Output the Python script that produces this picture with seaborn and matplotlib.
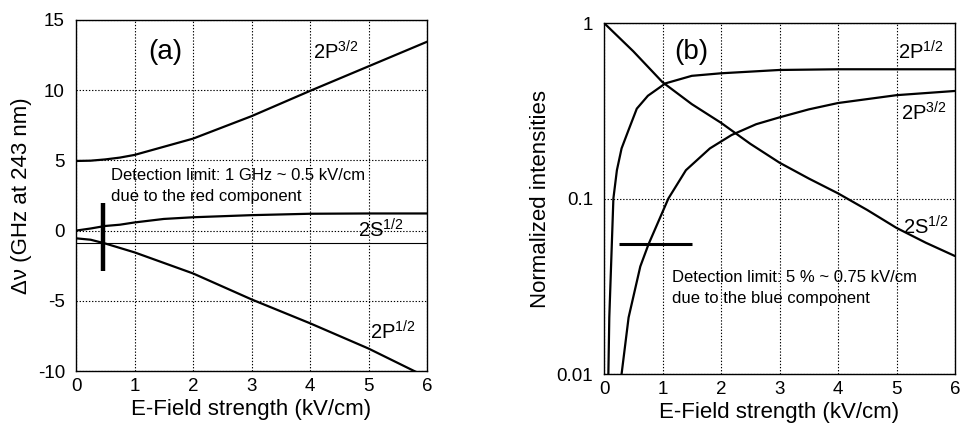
import matplotlib
matplotlib.use("Agg")
import matplotlib.pyplot as plt
import seaborn as sns
import numpy as np
import pandas as pd

# ---- (a) level shifts vs. field ----
field_p32_a = [0, 0.25, 0.5, 0.75, 1, 2, 3, 4, 5, 6]
shift_p32_a = [4.96, 4.98, 5.07, 5.2, 5.39, 6.55, 8.15, 9.95, 11.7, 13.45]

field_s12_a = [0, 0.25, 0.5, 0.75, 1, 1.5, 2, 3, 4, 5, 6]
shift_s12_a = [0.0, 0.15, 0.33, 0.42, 0.58, 0.83, 0.95, 1.1, 1.2, 1.22, 1.22]

field_p12_a = [0, 0.25, 0.5, 1, 2, 3, 4, 5, 6]
shift_p12_a = [-0.55, -0.65, -0.92, -1.55, -3.05, -4.9, -6.6, -8.4, -10.45]

red_limit_level = -0.88
red_bar_field = 0.46
red_bar_span = [-2.9, 1.95]

# ---- (b) normalized intensities vs. field ----
field_s12_b = [0, 0.5, 1, 1.5, 2, 2.5, 3, 3.5, 4, 4.5, 5, 5.5, 6]
inten_s12_b = [1.0, 0.69, 0.46, 0.345, 0.27, 0.205, 0.16, 0.13, 0.107, 0.086, 0.068, 0.056, 0.047]

field_p12_b = [0.074, 0.09, 0.12, 0.16, 0.22, 0.3, 0.42, 0.56, 0.75, 1.05, 1.5, 2, 3, 4, 5, 6]
inten_p12_b = [0.01, 0.021, 0.041, 0.1, 0.145, 0.193, 0.246, 0.325, 0.385, 0.453, 0.50, 0.517, 0.54, 0.545, 0.545, 0.545]

field_p32_b = [0.30, 0.42, 0.62, 0.76, 1.1, 1.4, 1.81, 2.18, 2.6, 3, 3.5, 4, 5, 6]
inten_p32_b = [0.01, 0.021, 0.041, 0.0548, 0.1, 0.145, 0.193, 0.23, 0.265, 0.29, 0.322, 0.35, 0.388, 0.41]

blue_limit_level = 0.0548
blue_bar_span = [0.25, 1.5]

x_ticks = [0, 1, 2, 3, 4, 5, 6]
y_ticks_a = [-10, -5, 0, 5, 10, 15]
y_ticks_b = [0.01, 0.1, 1]
y_ticklabels_b = ["0.01", "0.1", "1"]

sns.set_theme(style="white")
plt.rcParams["font.family"] = ["Liberation Sans", "DejaVu Sans"]
plt.rcParams["mathtext.default"] = "regular"
plt.rcParams["axes.unicode_minus"] = False
plt.rcParams["text.color"] = "black"
plt.rcParams["axes.labelcolor"] = "black"

fig = plt.figure(figsize=(9.6, 4.3), dpi=100)
ax_a = fig.add_axes([0.0792, 0.1372, 0.3656, 0.8163])
ax_b = fig.add_axes([0.6292, 0.1302, 0.3656, 0.8163])

LW = 1.6
grid_kw = dict(color="black", linestyle=(0, (1.2, 1.6)), linewidth=0.8)
LABEL_FS = 16
TICK_FS = 13.5
STATE_FS = 14.5
PANEL_FS = 20
NOTE_FS = 12

def curve(ax, xs, ys):
    df = pd.DataFrame({"E": xs, "v": ys})
    sns.lineplot(data=df, x="E", y="v", ax=ax, color="black", linewidth=LW,
                 estimator=None, sort=False)

# panel (a)
curve(ax_a, field_p32_a, shift_p32_a)
curve(ax_a, field_s12_a, shift_s12_a)
curve(ax_a, field_p12_a, shift_p12_a)
ax_a.axhline(red_limit_level, color="black", linewidth=0.8)
ax_a.vlines(red_bar_field, red_bar_span[0], red_bar_span[1], color="black", linewidth=3.2)
ax_a.set_xlim(0, 6)
ax_a.set_ylim(-10, 15)
ax_a.set_xticks(x_ticks)
ax_a.set_yticks(y_ticks_a)
ax_a.grid(True, **grid_kw)
ax_a.set_xlabel("E-Field strength (kV/cm)", fontsize=LABEL_FS, labelpad=3)
ax_a.set_ylabel("Δν (GHz at 243 nm)", fontsize=LABEL_FS, labelpad=4)
ax_a.text(1.52, 12.72, "(a)", fontsize=PANEL_FS, ha="center", va="center")
ax_a.text(4.05, 12.7, "2P$^{3/2}$", fontsize=STATE_FS, ha="left", va="center")
ax_a.text(4.82, 0.04, "2S$^{1/2}$", fontsize=STATE_FS, ha="left", va="center")
ax_a.text(5.03, -7.22, "2P$^{1/2}$", fontsize=STATE_FS, ha="left", va="center")
ax_a.text(0.59, 3.96, "Detection limit: 1 GHz ~ 0.5 kV/cm", fontsize=NOTE_FS, ha="left", va="center")
ax_a.text(0.59, 2.4, "due to the red component", fontsize=NOTE_FS, ha="left", va="center")

# panel (b)
curve(ax_b, field_s12_b, inten_s12_b)
curve(ax_b, field_p12_b, inten_p12_b)
curve(ax_b, field_p32_b, inten_p32_b)
ax_b.hlines(blue_limit_level, blue_bar_span[0], blue_bar_span[1], color="black", linewidth=2.2)
ax_b.set_yscale("log")
ax_b.set_xlim(0, 6)
ax_b.set_ylim(0.01, 1)
ax_b.set_xticks(x_ticks)
ax_b.set_yticks(y_ticks_b)
ax_b.set_yticklabels(y_ticklabels_b)
ax_b.yaxis.set_minor_locator(matplotlib.ticker.NullLocator())
ax_b.grid(True, which="major", **grid_kw)
ax_b.set_xlabel("E-Field strength (kV/cm)", fontsize=LABEL_FS, labelpad=3)
ax_b.set_ylabel("Normalized intensities", fontsize=LABEL_FS, labelpad=4)
ax_b.text(1.50, 0.684, "(b)", fontsize=PANEL_FS, ha="center", va="center")
ax_b.text(5.03, 0.684, "2P$^{1/2}$", fontsize=STATE_FS, ha="left", va="center")
ax_b.text(5.07, 0.307, "2P$^{3/2}$", fontsize=STATE_FS, ha="left", va="center")
ax_b.text(5.11, 0.0688, "2S$^{1/2}$", fontsize=STATE_FS, ha="left", va="center")
ax_b.text(1.17, 0.0357, "Detection limit: 5 % ~ 0.75 kV/cm", fontsize=NOTE_FS, ha="left", va="center")
ax_b.text(1.17, 0.0271, "due to the blue component", fontsize=NOTE_FS, ha="left", va="center")

for ax in (ax_a, ax_b):
    ax.tick_params(axis="both", which="both", length=0, labelsize=TICK_FS, colors="black")
    ax.tick_params(axis="y", pad=8)
    ax.tick_params(axis="x", pad=5)
    for s in ax.spines.values():
        s.set_color("black")
        s.set_linewidth(1.0)
    ax.set_facecolor("white")

fig.savefig("out.png", dpi=100, facecolor="white")
